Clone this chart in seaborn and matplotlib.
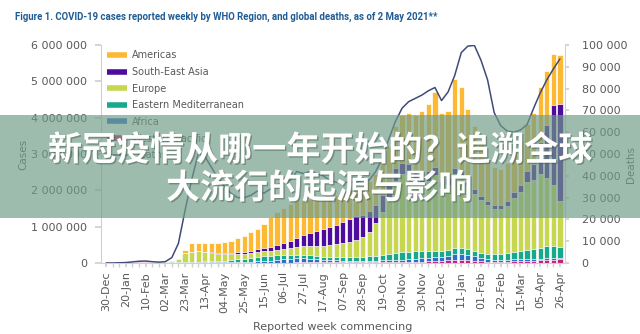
import matplotlib
matplotlib.use("Agg")
import matplotlib.pyplot as plt
from matplotlib import font_manager
from matplotlib.lines import Line2D
from matplotlib.patches import Rectangle
from matplotlib.ticker import FuncFormatter
import matplotlib.patheffects as pe
import pandas as pd
import seaborn as sns

# Weekly reporting periods, 30 Dec 2019 .. 26 Apr 2021 (70 weeks)
weeks = list(range(70))
tick_labels = ["30-Dec", "20-Jan", "10-Feb", "02-Mar", "23-Mar", "13-Apr", "04-May",
               "25-May", "15-Jun", "06-Jul", "27-Jul", "17-Aug", "07-Sep", "28-Sep",
               "19-Oct", "09-Nov", "30-Nov", "21-Dec", "11-Jan", "01-Feb", "22-Feb",
               "15-Mar", "05-Apr", "26-Apr"]

# Weekly cases by WHO region (thousands)
americas = [0, 0, 0, 0, 0, 0, 0, 0, 0, 0.5,
            3, 10, 80, 236, 236, 248, 261, 282, 313, 329,
            390, 429, 496, 543, 660, 807, 903, 960, 1008, 1010,
            965, 933, 915, 883, 860, 840, 777, 779, 760, 766,
            821, 840, 919, 1013, 1150, 1300, 1400, 1500, 1700, 1850,
            2050, 1850, 1850, 2450, 2350, 2000, 1750, 1450, 1200, 1050,
            1000, 1050, 1100, 1200, 1300, 1400, 1500, 1500, 1410, 1350]
south_east_asia = [0, 0, 0, 0, 0, 0, 0, 0, 0, 0,
                   0, 1, 2, 3, 5, 8, 10, 14, 20, 30,
                   40, 50, 65, 80, 95, 115, 140, 170, 200, 250,
                   320, 380, 430, 460, 490, 520, 580, 640, 650, 620,
                   570, 520, 470, 400, 350, 320, 310, 300, 280, 260,
                   230, 200, 180, 170, 150, 140, 130, 120, 110, 110,
                   115, 130, 150, 200, 300, 450, 900, 1450, 2200, 2650]
europe = [0, 0, 0, 0, 0, 0, 0, 0, 2, 8,
          40, 90, 250, 270, 280, 250, 230, 200, 180, 160,
          150, 140, 130, 130, 130, 140, 150, 170, 190, 210,
          230, 250, 270, 300, 330, 355, 380, 420, 470, 540,
          680, 900, 1200, 1550, 2005, 2145, 2105, 1935, 1875, 1940,
          2095, 1735, 1795, 2030, 1915, 1725, 1565, 1445, 1335, 1245,
          1230, 1295, 1500, 1625, 1870, 1890, 2020, 1885, 1675, 1280]
eastern_med = [0, 0, 0, 0, 0, 0, 0, 0, 2, 6,
               12, 15, 20, 25, 25, 30, 35, 40, 50, 60,
               75, 90, 110, 130, 140, 130, 125, 120, 110, 105,
               100, 90, 85, 85, 85, 90, 95, 100, 110, 115,
               120, 125, 140, 160, 180, 200, 210, 210, 200, 180,
               170, 160, 160, 165, 165, 160, 150, 140, 140, 150,
               165, 180, 200, 220, 250, 280, 300, 320, 320, 290]
africa = [0, 0, 0, 0, 0, 0, 0, 0, 0, 0,
          0, 0.5, 1.5, 3, 5, 6, 8, 10, 14, 18,
          22, 28, 35, 42, 50, 62, 75, 90, 100, 110,
          105, 95, 80, 70, 60, 55, 50, 45, 45, 45,
          45, 50, 55, 60, 65, 70, 75, 80, 85, 95,
          105, 115, 125, 165, 175, 150, 120, 95, 75, 60,
          55, 55, 55, 55, 55, 50, 50, 50, 50, 50]
western_pacific = [0, 0, 0, 2, 12, 22, 25, 6, 3, 5,
                   5, 4, 6, 8, 9, 8, 6, 4, 3, 3,
                   3, 3, 4, 5, 5, 6, 7, 10, 12, 15,
                   20, 22, 20, 22, 25, 20, 18, 16, 15, 14,
                   14, 15, 16, 17, 20, 25, 30, 35, 40, 45,
                   50, 60, 70, 80, 85, 75, 65, 50, 40, 35,
                   35, 40, 45, 50, 55, 60, 70, 85, 95, 100]

# Global weekly deaths (thousands)
deaths = [0, 0, 0.1, 0.2, 0.5, 0.8, 0.9, 0.6, 0.4, 0.6,
          2.5, 9, 24, 38, 50, 49, 44, 39, 35, 32,
          30, 30, 31, 33, 32, 34, 36, 37, 38, 42,
          41, 42, 41, 40, 38, 37, 37, 37, 37, 38,
          38, 42, 48, 57, 65, 71, 74, 75.5, 77, 79,
          80.5, 74.5, 78.5, 86, 96.5, 99.5, 99.8, 93, 84, 69,
          63, 60.5, 60, 61, 63.5, 71, 78, 84, 89, 93.6]

regions = ["Americas", "South-East Asia", "Europe", "Eastern Mediterranean",
           "Africa", "Western Pacific"]
series = [americas, south_east_asia, europe, eastern_med, africa, western_pacific]
colors = ["#FDB933", "#4D0C9E", "#C7D74F", "#17A98C", "#2C6ECB", "#C81E7D"]
line_color = "#3F4B78"
grey_text = "#595959"
grey_line = "#D0D0D0"

df = pd.DataFrame({name: [v * 1000 for v in vals] for name, vals in zip(regions, series)})
df["week"] = weeks

sns.set_theme(style="white")
plt.rcParams["font.family"] = ["DejaVu Sans"]

fig = plt.figure(figsize=(6.4, 3.34), dpi=100)
ax = fig.add_axes([101 / 640, 1 - 263 / 334, 464 / 640, 218 / 334])

# stacked bars: draw cumulative heights from the top layer down
stack_order = regions[::-1]  # bottom -> top
cum = df[stack_order].cumsum(axis=1)
for name in regions:  # top layer first
    col = colors[regions.index(name)]
    sns.barplot(x=df["week"], y=cum[name], native_scale=True, color=col,
                width=0.8, edgecolor="white", linewidth=0.5, errorbar=None,
                saturation=1, ax=ax)

ax.set_ylim(0, 6_000_000)
ax.set_xlim(-0.77, 69.77)
ax.set_xticks(weeks[::3])
ax.set_xticklabels(tick_labels, rotation=90)
ax.set_xticks(weeks, minor=True)
ax.yaxis.set_major_formatter(FuncFormatter(lambda v, p: f"{int(v):,}".replace(",", " ")))
ax.set_yticks(range(0, 6_000_001, 1_000_000))
ax.tick_params(axis="y", which="major", length=4, color=grey_line, labelsize=8,
               labelcolor=grey_text, pad=6, left=True)
ax.tick_params(axis="x", which="both", length=3, color=grey_line, labelsize=8,
               labelcolor=grey_text, pad=3, bottom=True)
for s in ["top", "right"]:
    ax.spines[s].set_visible(False)
for s in ["left", "bottom"]:
    ax.spines[s].set_color(grey_line)
    ax.spines[s].set_linewidth(0.8)
ax.set_ylabel("Cases", fontsize=7.5, color=grey_text)
ax.yaxis.set_label_coords(-0.157, 0.5)
ax.set_xlabel("Reported week commencing", fontsize=8, color=grey_text)
ax.xaxis.set_label_coords(0.5, -0.27)

ax2 = ax.twinx()
sns.lineplot(x=weeks, y=[d * 1000 for d in deaths], color=line_color, lw=1.1, ax=ax2)
ax2.set_ylim(0, 100_000)
ax2.set_yticks(range(0, 100_001, 10_000))
ax2.yaxis.set_major_formatter(FuncFormatter(lambda v, p: f"{int(v):,}".replace(",", " ")))
ax2.tick_params(axis="y", length=3, color=grey_line, labelsize=8, labelcolor=grey_text,
                pad=9, right=True)
for s in ["top", "left", "bottom"]:
    ax2.spines[s].set_visible(False)
ax2.spines["right"].set_color(grey_line)
ax2.spines["right"].set_linewidth(0.8)
ax2.set_ylabel("Deaths", fontsize=7.5, color=grey_text)
ax2.yaxis.set_label_coords(1.131, 0.45)
ax2.set_xlim(-0.77, 69.77)

handles = [Line2D([0], [0], color=c, lw=4, solid_capstyle="butt") for c in colors]
handles.append(Line2D([0], [0], color=line_color, lw=1.2))
leg = ax2.legend(handles, regions + ["Deaths"], loc="upper left",
                 bbox_to_anchor=(0.013, 0.975), frameon=False, fontsize=7,
                 handlelength=2.1, handletextpad=0.45, labelspacing=0.68,
                 borderpad=0, borderaxespad=0)
for t in leg.get_texts():
    t.set_color(grey_text)

# narrow face for the figure caption when available
installed = {f.name for f in font_manager.fontManager.ttflist}
if "Liberation Sans Narrow" in installed:
    cap_family, cap_size = ["Liberation Sans Narrow"], 7.8
else:
    cap_family, cap_size = ["Roboto", "DejaVu Sans"], 6.9
fig.text(15 / 640, 1 - 17 / 334,
         "Figure 1. COVID-19 cases reported weekly by WHO Region, and global deaths, as of 2 May 2021**",
         ha="left", va="center", fontsize=cap_size, fontweight="bold", color="#1F5D96",
         family=cap_family)

# headline banner across the chart
fig.add_artist(Rectangle((0, 1 - 218 / 334), 1, 103 / 334, transform=fig.transFigure,
                         facecolor="#6F9C88", edgecolor="none", alpha=0.68, zorder=10))
shadow = [pe.withSimplePatchShadow(offset=(1, -1), shadow_rgbFace="#4A5A52", alpha=0.5)]
fig.text(0.5, 1 - 150 / 334, "新冠疫情从哪一年开始的？追溯全球", ha="center", va="center",
         fontsize=24.5, fontweight="heavy", color="white", zorder=11,
         family=["Noto Sans CJK SC", "DejaVu Sans"], path_effects=shadow)
fig.text(319 / 640, 1 - 188 / 334, "大流行的起源与影响", ha="center", va="center",
         fontsize=24.5, fontweight="heavy", color="white", zorder=11,
         family=["Noto Sans CJK SC", "DejaVu Sans"], path_effects=shadow)

fig.savefig("out.png", dpi=100)
